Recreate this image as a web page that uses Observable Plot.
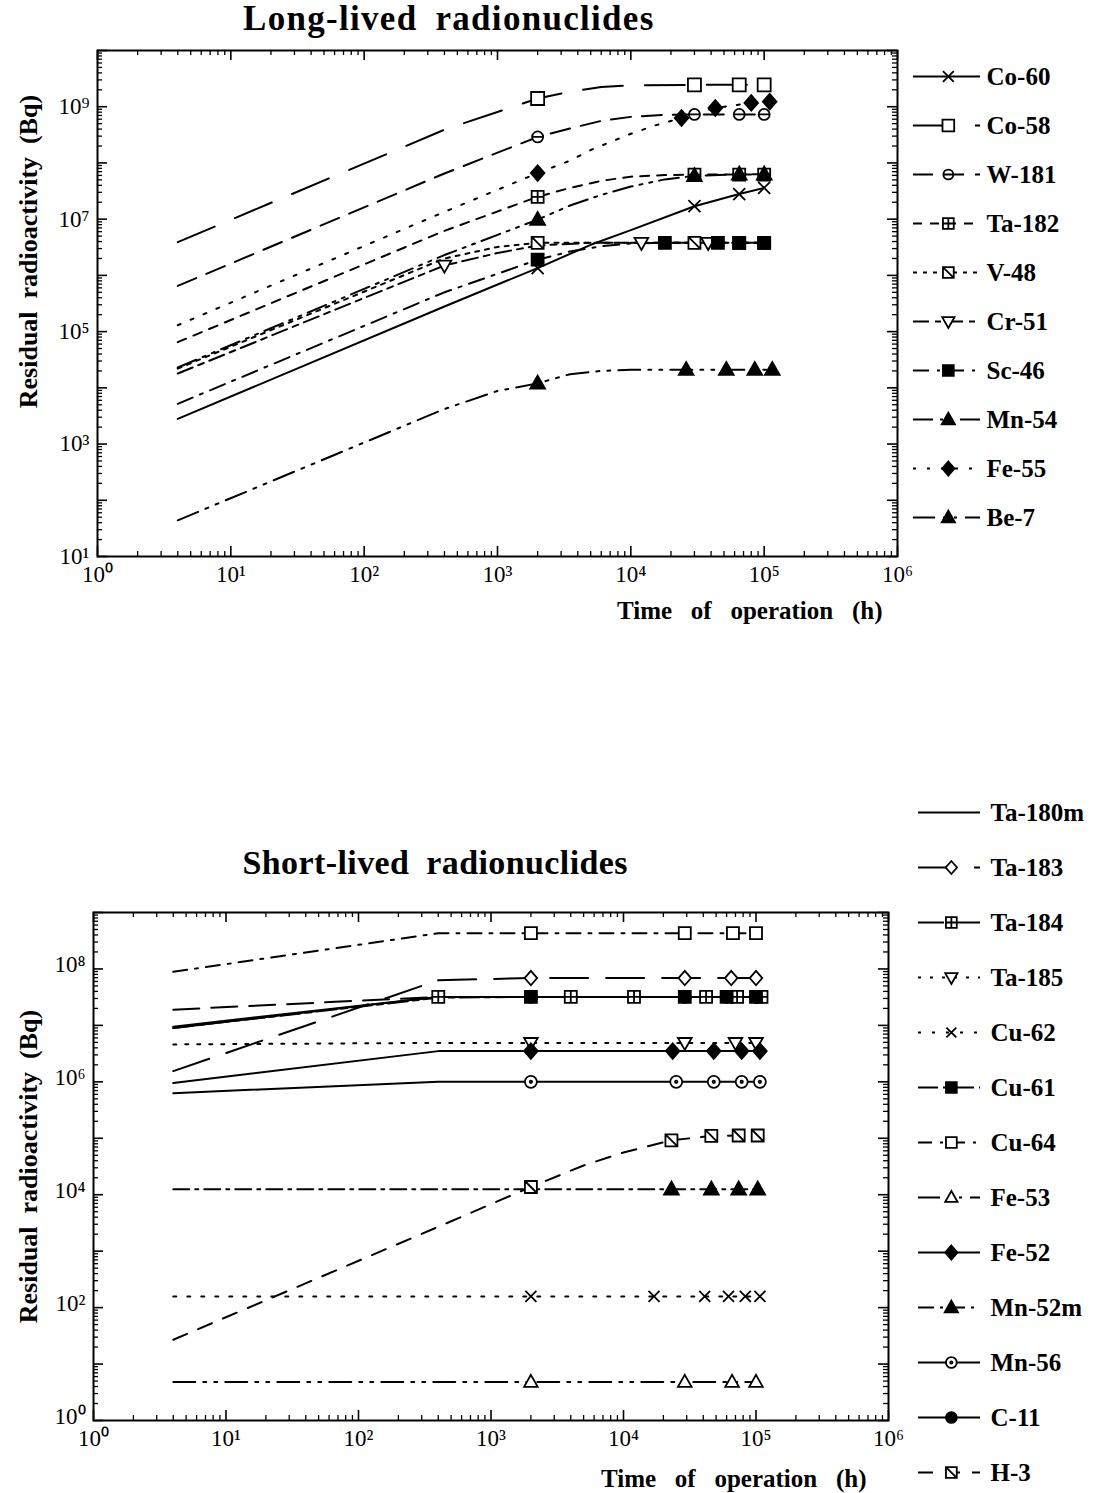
<!DOCTYPE html>
<html><head><meta charset="utf-8">
<script src="https://cdn.jsdelivr.net/npm/d3@7"></script>
<script src="https://cdn.jsdelivr.net/npm/@observablehq/plot@0.6"></script>
<style>
body{margin:0;background:#fff;}
#page{position:relative;width:1095px;height:1493px;overflow:hidden;background:#fff;font-family:"Liberation Serif","Times New Roman",serif;color:#000;}
.title{position:absolute;font-weight:bold;line-height:1;white-space:nowrap;word-spacing:8px;}
.abs{position:absolute;}
</style></head><body><div id="page"></div><script>
// ---------- tick labels ----------
const xTicks = [1, 10, 100, 1e3, 1e4, 1e5, 1e6];
const xTickLabels = ["10⁰", "10¹", "10²", "10³", "10⁴", "10⁵", "10⁶"];
const yTicksTop = [10, 1e3, 1e5, 1e7, 1e9];
const yTickLabelsTop = ["10¹", "10³", "10⁵", "10⁷", "10⁹"];
const yTicksBottom = [1, 1e2, 1e4, 1e6, 1e8];
const yTickLabelsBottom = ["10⁰", "10²", "10⁴", "10⁶", "10⁸"];

// ---------- Long-lived radionuclides: [time (h), activity (Bq)] ----------
const longNames = ["Co-60", "Co-58", "W-181", "Ta-182", "V-48", "Cr-51", "Sc-46", "Mn-54", "Fe-55", "Be-7"];
const co60 = [[4,2.8e3],[400,2.8e5],[2000,1.35e6],[5000,3.5e6],[10000,6.4e6],[30000,1.7e7],[65000,2.8e7],[100000,3.6e7]];
const co60Marks = [2000,30000,65000,100000];
const co58 = [[4,3.9e6],[400,3.9e8],[2000,1.4e9],[3500,1.86e9],[6000,2.24e9],[10000,2.41e9],[30000,2.45e9],[65000,2.45e9],[100000,2.45e9]];
const co58Marks = [2000,30000,65000,100000];
const w181 = [[4,6.5e5],[400,6.5e7],[2000,2.9e8],[3500,4.1e8],[6000,5.6e8],[10000,6.6e8],[18000,7.2e8],[30000,7.3e8],[65000,7.3e8],[100000,7.3e8]];
const w181Marks = [2000,30000,65000,100000];
const ta182 = [[4,6.5e4],[400,6.2e6],[2000,2.5e7],[3500,3.6e7],[6000,4.8e7],[10000,5.7e7],[18000,6.1e7],[30000,6.2e7],[65000,6.2e7],[100000,6.2e7]];
const ta182Marks = [2000,30000,65000,100000];
const v48 = [[4,2.2e4],[400,2.0e6],[1000,3.2e6],[2000,3.8e6],[30000,3.8e6],[65000,3.8e6],[100000,3.8e6]];
const v48Marks = [2000,30000,65000,100000];
const cr51 = [[4,1.8e4],[400,1.5e6],[1000,2.5e6],[2000,3.4e6],[5000,3.8e6],[12000,3.8e6],[38000,3.8e6],[100000,3.8e6]];
const cr51Marks = [400,12000,38000];
const sc46 = [[4,5.2e3],[400,5.0e5],[2000,1.9e6],[3500,2.66e6],[6000,3.3e6],[10000,3.7e6],[18000,3.8e6],[45000,3.8e6],[65000,3.8e6],[100000,3.8e6]];
const sc46Marks = [2000,18000,45000,65000,100000];
const mn54 = [[4,2.3e4],[400,2.3e6],[2000,9.8e6],[3500,1.75e7],[6000,2.7e7],[10000,3.8e7],[18000,5.1e7],[30000,5.9e7],[65000,6.3e7],[100000,6.3e7]];
const mn54Marks = [2000,30000,65000,100000];
const fe55 = [[4,1.3e5],[400,1.35e7],[2000,6.6e7],[3500,1.1e8],[5000,1.7e8],[10000,3.3e8],[15000,4.6e8],[24000,6.3e8],[43000,9.5e8],[80000,1.17e9],[110000,1.23e9]];
const fe55Marks = [2000,24000,43000,80000,110000];
const be7 = [[4,44],[400,4.2e3],[1000,8.8e3],[2000,1.2e4],[3500,1.75e4],[6000,2.0e4],[10000,2.1e4],[26000,2.1e4],[52000,2.1e4],[85000,2.1e4],[115000,2.1e4]];
const be7Marks = [2000,26000,52000,85000,115000];

// ---------- Short-lived radionuclides ----------
const shortNames = ["Ta-180m", "Ta-183", "Ta-184", "Ta-185", "Cu-62", "Cu-61", "Cu-64", "Fe-53", "Fe-52", "Mn-52m", "Mn-56", "C-11", "H-3"];
const ta180m = [[4,9.0e6],[400,3.2e7],[2000,3.2e7],[30000,3.2e7],[100000,3.2e7]];
const ta180mMarks = [];
const ta183 = [[4,1.55e6],[400,6.3e7],[2000,6.9e7],[29000,6.9e7],[65000,6.9e7],[100000,6.9e7]];
const ta183Marks = [2000,29000,65000,100000];
const ta184 = [[4,1.9e7],[400,3.2e7],[4000,3.2e7],[12000,3.2e7],[42000,3.2e7],[72000,3.2e7],[110000,3.2e7]];
const ta184Marks = [400,4000,12000,42000,72000,110000];
const ta185 = [[4,4.6e6],[400,4.9e6],[2000,4.9e6],[29000,4.9e6],[70000,4.9e6],[100000,4.9e6]];
const ta185Marks = [2000,29000,70000,100000];
const cu62 = [[4,158],[2000,158],[17000,158],[41000,158],[62000,158],[83000,158],[107000,158]];
const cu62Marks = [2000,17000,41000,62000,83000,107000];
const cu61 = [[4,9.0e6],[400,3.1e7],[2000,3.2e7],[29000,3.2e7],[60000,3.2e7],[100000,3.2e7]];
const cu61Marks = [2000,29000,60000,100000];
const cu64 = [[4,8.9e7],[400,4.3e8],[2000,4.3e8],[29000,4.3e8],[67000,4.3e8],[100000,4.3e8]];
const cu64Marks = [2000,29000,67000,100000];
const fe53 = [[4,4.8],[2000,4.8],[29000,4.8],[66000,4.8],[100000,4.8]];
const fe53Marks = [2000,29000,66000,100000];
const fe52 = [[4,9.5e5],[400,3.5e6],[2000,3.5e6],[23500,3.5e6],[48000,3.5e6],[78000,3.5e6],[107000,3.5e6]];
const fe52Marks = [2000,23500,48000,78000,107000];
const mn52m = [[4,1.25e4],[2000,1.25e4],[23000,1.25e4],[46000,1.25e4],[74000,1.25e4],[103000,1.25e4]];
const mn52mMarks = [23000,46000,74000,103000];
const mn56 = [[4,6.3e5],[400,1.0e6],[2000,1.0e6],[25000,1.0e6],[48000,1.0e6],[78000,1.0e6],[107000,1.0e6]];
const mn56Marks = [2000,25000,48000,78000,107000];
const c11 = [[4,9.5e6],[400,3.2e7],[2000,3.2e7],[29000,3.2e7],[60000,3.2e7],[100000,3.2e7]];
const c11Marks = [2000,29000,60000,100000];
const h3 = [[4,27],[400,2.7e3],[2000,1.37e4],[5000,3.3e4],[10000,5.6e4],[23000,9.2e4],[46000,1.1e5],[74000,1.12e5],[103000,1.12e5]];
const h3Marks = [2000,23000,46000,74000,103000];

// ---------- symbols ----------
const S = f => ({draw(c, size){ const h = Math.sqrt(size/Math.PI); f(c, h); }});
const sq = (c,h) => {c.moveTo(-h,-h);c.lineTo(h,-h);c.lineTo(h,h);c.lineTo(-h,h);c.closePath();};
const ci = (c,h) => {c.moveTo(h,0);c.arc(0,0,h,0,2*Math.PI);};
const symSquare = S(sq);
const symSquarePlus = S((c,h)=>{sq(c,h);c.moveTo(-h,0);c.lineTo(h,0);c.moveTo(0,-h);c.lineTo(0,h);});
const symSquareSlash = S((c,h)=>{sq(c,h);c.moveTo(-h,-h);c.lineTo(h,h);});
const symCircle = S(ci);
const symCircleMinus = S((c,h)=>{ci(c,h);c.moveTo(-h,0);c.lineTo(h,0);});
const symCircleDot = S((c,h)=>{ci(c,h);c.moveTo(1.2,0);c.arc(0,0,1.2,0,2*Math.PI);});
const symTriUp = S((c,h)=>{c.moveTo(0,-h*1.1);c.lineTo(h*1.05,h*0.75);c.lineTo(-h*1.05,h*0.75);c.closePath();});
const symTriDown = S((c,h)=>{c.moveTo(0,h*1.1);c.lineTo(h*1.05,-h*0.75);c.lineTo(-h*1.05,-h*0.75);c.closePath();});
const symDiamond = S((c,h)=>{c.moveTo(0,-h*1.2);c.lineTo(h*1.05,0);c.lineTo(0,h*1.2);c.lineTo(-h*1.05,0);c.closePath();});
const symTimes = S((c,h)=>{c.moveTo(-h,-h);c.lineTo(h,h);c.moveTo(-h,h);c.lineTo(h,-h);});

// ---------- styles ----------
const longSeries = {
  "Co-60": [co60, co60Marks], "Co-58": [co58, co58Marks], "W-181": [w181, w181Marks],
  "Ta-182": [ta182, ta182Marks], "V-48": [v48, v48Marks], "Cr-51": [cr51, cr51Marks],
  "Sc-46": [sc46, sc46Marks], "Mn-54": [mn54, mn54Marks], "Fe-55": [fe55, fe55Marks], "Be-7": [be7, be7Marks]
};
const longStyle = {
  "Co-60": {dash: null, sym: symTimes, fill: "none", r: 6},
  "Co-58": {dash: "40,22", sym: symSquare, fill: "white", r: 6.5},
  "W-181": {dash: "20,11", sym: symCircleMinus, fill: "white", r: 5.5},
  "Ta-182": {dash: "9,8", sym: symSquarePlus, fill: "white", r: 6},
  "V-48": {dash: "4,6", sym: symSquareSlash, fill: "white", r: 6},
  "Cr-51": {dash: "16,6,6,6", sym: symTriDown, fill: "white", r: 6.5},
  "Sc-46": {dash: "16,8,3,8", sym: symSquare, fill: "black", r: 6},
  "Mn-54": {dash: "20,7,3,7,3,7", sym: symTriUp, fill: "black", r: 7},
  "Fe-55": {dash: "3,11", sym: symDiamond, fill: "black", r: 6.5},
  "Be-7": {dash: "22,8,3,8,3,8", sym: symTriUp, fill: "black", r: 7}
};
const shortSeries = {
  "Ta-180m": [ta180m, ta180mMarks], "Ta-183": [ta183, ta183Marks], "Ta-184": [ta184, ta184Marks],
  "Ta-185": [ta185, ta185Marks], "Cu-62": [cu62, cu62Marks], "C-11": [c11, c11Marks], "Cu-61": [cu61, cu61Marks],
  "Cu-64": [cu64, cu64Marks], "Fe-53": [fe53, fe53Marks], "Fe-52": [fe52, fe52Marks],
  "Mn-52m": [mn52m, mn52mMarks], "Mn-56": [mn56, mn56Marks], "H-3": [h3, h3Marks]
};
const shortStyle = {
  "Ta-180m": {dash: null, sym: null},
  "Ta-183": {dash: "38,18", sym: symDiamond, fill: "white", r: 6},
  "Ta-184": {dash: "26,12", sym: symSquarePlus, fill: "white", r: 6},
  "Ta-185": {dash: "3,9", sym: symTriDown, fill: "white", r: 6.5},
  "Cu-62": {dash: "3,11", sym: symTimes, fill: "none", r: 5.5},
  "Cu-61": {dash: "20,5,6,5", sym: symSquare, fill: "black", r: 6},
  "Cu-64": {dash: "14,8,3,8", sym: symSquare, fill: "white", r: 6},
  "Fe-53": {dash: "22,8,3,8,3,8", sym: symTriUp, fill: "white", r: 6.5},
  "Fe-52": {dash: null, sym: symDiamond, fill: "black", r: 6.5},
  "Mn-52m": {dash: "16,6,3,6", sym: symTriUp, fill: "black", r: 7},
  "Mn-56": {dash: null, sym: symCircleDot, fill: "white", r: 6},
  "C-11": {dash: null, sym: symCircle, fill: "black", r: 6},
  "H-3": {dash: "15,12", sym: symSquareSlash, fill: "white", r: 6}
};

const FONT = "'Liberation Serif','Times New Roman',serif";

function logTicks(e0, e1){
  const minor = [], major = [];
  for (let e = e0; e <= e1; e++) {
    major.push(10 ** e);
    if (e < e1) for (let k = 2; k < 10; k++) minor.push(k * 10 ** e);
  }
  return {minor, major};
}

function buildPanel(cfg){
  const fw = cfg.width - cfg.ml - cfg.mr, fh = cfg.height - cfg.mt - cfg.mb;
  const xt = logTicks(0, 6), yt = logTicks(cfg.yExp[0], cfg.yExp[1]);
  const marks = [];
  for (const [arr, len, sw] of [[xt.minor, 5, 1.3], [xt.major, 10, 1.6]]) {
    marks.push(Plot.tickX(arr, {x: d => d, insetTop: fh - len, strokeWidth: sw}));
    marks.push(Plot.tickX(arr, {x: d => d, insetBottom: fh - len, strokeWidth: sw}));
  }
  for (const [arr, len, sw] of [[yt.minor, 5, 1.3], [yt.major, 10, 1.6]]) {
    marks.push(Plot.tickY(arr, {y: d => d, insetRight: fw - len, strokeWidth: sw}));
    marks.push(Plot.tickY(arr, {y: d => d, insetLeft: fw - len, strokeWidth: sw}));
  }
  const names = Object.keys(cfg.series);
  for (const n of names) {
    const [pts] = cfg.series[n], s = cfg.styles[n];
    const rows = pts.map(([t, v]) => ({t, v}));
    marks.push(Plot.line(rows, {x: "t", y: "v", stroke: "black", strokeWidth: 2, strokeDasharray: s.dash, curve: "linear"}));
  }
  for (const n of names) {
    const [pts, mk] = cfg.series[n], s = cfg.styles[n];
    if (!s.sym) continue;
    const rows = pts.filter(([t]) => mk.includes(t)).map(([t, v]) => ({t, v}));
    marks.push(Plot.dot(rows, {x: "t", y: "v", symbol: s.sym, r: s.r, fill: s.fill, stroke: "black", strokeWidth: 1.8}));
  }
  marks.push(Plot.frame({stroke: "black", strokeWidth: 2}));
  marks.push(Plot.axisX(xTicks, {tickSize: 0, tickPadding: cfg.xPad, tickFormat: d => xTickLabels[xTicks.indexOf(d)], fontSize: 23, label: null}));
  marks.push(Plot.axisY(cfg.yTicks, {tickSize: 0, tickPadding: 8, tickFormat: d => cfg.yLabels[cfg.yTicks.indexOf(d)], fontSize: 23, label: null, dy: cfg.yLabDy}));
  marks.push(Plot.text([cfg.yTitle], {frameAnchor: "left", text: d => d, rotate: -90, textAnchor: "middle", lineAnchor: "middle", dx: cfg.yTitleDx, dy: cfg.yTitleDy, fontSize: 26, fontWeight: "bold"}));
  marks.push(Plot.text([cfg.xTitle], {frameAnchor: "bottom-right", text: d => d, textAnchor: "end", lineAnchor: "middle", dx: cfg.xTitleDx, dy: cfg.xTitleDy, fontSize: 25, fontWeight: "bold"}));
  return Plot.plot({
    width: cfg.width, height: cfg.height,
    marginTop: cfg.mt, marginBottom: cfg.mb, marginLeft: cfg.ml, marginRight: cfg.mr,
    x: {type: "log", domain: [1, 1e6]},
    y: {type: "log", domain: cfg.yDomain},
    style: {fontFamily: FONT, fontSize: "23px", color: "black", background: "white", overflow: "visible"},
    marks
  });
}

function buildLegend(cfg){
  const marks = [];
  for (const n of cfg.names) {
    const s = cfg.styles[n];
    marks.push(Plot.ruleY([n], {y: d => d, x1: () => 0, x2: () => 1, stroke: "black", strokeWidth: 2, strokeDasharray: s.dash}));
    if (s.sym) marks.push(Plot.dot([n], {y: d => d, x: () => cfg.markAt, symbol: s.sym, r: s.r * 0.9, fill: s.fill, stroke: "black", strokeWidth: 1.8}));
  }
  marks.push(Plot.text(cfg.names, {x: () => 1, y: d => d, text: d => d, textAnchor: "start", dx: cfg.textDx, fontSize: 25, fontWeight: "bold"}));
  return Plot.plot({
    width: cfg.width, height: cfg.height,
    x: {domain: [0, 1], range: cfg.xRange, axis: null},
    y: {type: "point", domain: cfg.names, range: cfg.yRange, padding: 0, axis: null},
    style: {fontFamily: FONT, color: "black", background: "transparent", overflow: "visible"},
    marks
  });
}

const page = document.getElementById("page");
function place(el, left, topPx){ el.classList.add("abs"); el.style.left = left + "px"; el.style.top = topPx + "px"; page.appendChild(el); }

const yTitleText = "Residual\u00a0\u00a0radioactivity\u00a0\u00a0(Bq)";
const xTitleText = "Time\u00a0\u00a0\u00a0of\u00a0\u00a0\u00a0operation\u00a0\u00a0\u00a0(h)";

// top panel
const topPanel = buildPanel({
  series: longSeries, styles: longStyle, width: 900, height: 636, mt: 50, mb: 80, ml: 97, mr: 3,
  yDomain: [10, 1e10], yExp: [1, 10], yTicks: yTicksTop, yLabels: yTickLabelsTop, xPad: 9, yLabDy: 0,
  yTitle: yTitleText, yTitleDx: -69, yTitleDy: -52,
  xTitle: xTitleText, xTitleDx: -15, xTitleDy: 54
});
place(topPanel, 0, 0);

// bottom panel
const bottomPanel = buildPanel({
  series: shortSeries, styles: shortStyle, width: 900, height: 633, mt: 52, mb: 73, ml: 93, mr: 12,
  yDomain: [1, 1e9], yExp: [0, 9], yTicks: yTicksBottom, yLabels: yTickLabelsBottom, xPad: 9, yLabDy: -4,
  yTitle: yTitleText, yTitleDx: -65, yTitleDy: 0,
  xTitle: xTitleText, xTitleDx: -22, xTitleDy: 58
});
place(bottomPanel, 0, 860);

// legends
place(buildLegend({names: longNames, styles: longStyle, width: 190, height: 500, xRange: [8, 75], yRange: [25, 472], markAt: 0.52, textDx: 6}), 905, 48);
place(buildLegend({names: shortNames, styles: shortStyle, width: 190, height: 713, xRange: [13, 75], yRange: [28, 696], markAt: 0.53, textDx: 10}), 905, 780);

// titles
function addTitle(text, cx, topPx, size, ls){
  const t = document.createElement("div"); t.className = "title"; t.textContent = text;
  t.style.fontSize = size + "px"; t.style.letterSpacing = ls + "px";
  page.appendChild(t); t.style.left = (cx - t.offsetWidth / 2) + "px"; t.style.top = topPx + "px";
}
addTitle("Long-lived radionuclides", 449, 1, 35, 1.3);
addTitle("Short-lived radionuclides", 435, 846, 34, 0.4);
</script></body></html>
